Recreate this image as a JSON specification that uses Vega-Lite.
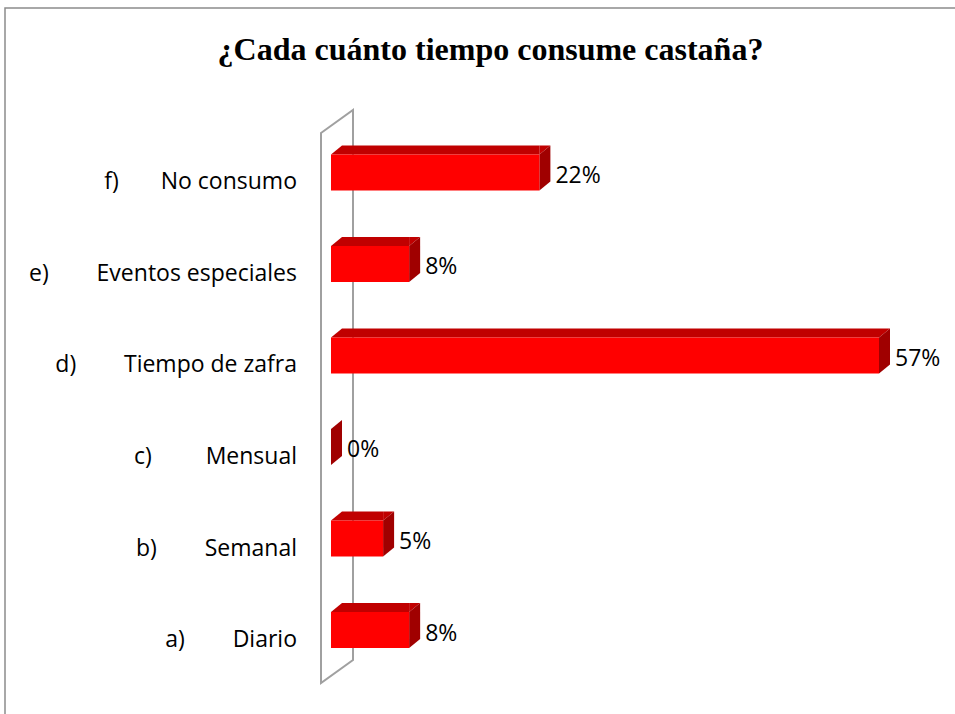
{
  "$schema": "https://vega.github.io/schema/vega-lite/v6.json",
  "width": 955,
  "height": 714,
  "autosize": {"type": "none"},
  "padding": {"left": 5, "top": 8, "right": -5, "bottom": -8},
  "background": "#ffffff",
  "config": {
    "view": {"stroke": "#8c8c8c", "strokeWidth": 1.5},
    "font": "Open Sans"
  },
  "title": {
    "text": "¿Cada cuánto tiempo consume castaña?",
    "font": "Liberation Serif",
    "fontSize": 32,
    "fontWeight": "bold",
    "color": "#000000",
    "anchor": "middle",
    "frame": "group",
    "baseline": "alphabetic",
    "offset": 0,
    "dy": 84,
    "dx": 8
  },
  "data": {
    "values": [
      {"cat": "f", "label": "f)\u00a0\u00a0\u00a0\u00a0\u00a0\u00a0\u00a0No consumo", "value": 0.216},
      {"cat": "e", "label": "e)\u00a0\u00a0\u00a0\u00a0\u00a0\u00a0\u00a0\u00a0Eventos especiales", "value": 0.081},
      {"cat": "d", "label": "d)\u00a0\u00a0\u00a0\u00a0\u00a0\u00a0\u00a0\u00a0Tiempo de zafra", "value": 0.568},
      {"cat": "c", "label": "c)\u00a0\u00a0\u00a0\u00a0\u00a0\u00a0\u00a0\u00a0\u00a0Mensual", "value": 0},
      {"cat": "b", "label": "b)\u00a0\u00a0\u00a0\u00a0\u00a0\u00a0\u00a0\u00a0Semanal", "value": 0.054},
      {"cat": "a", "label": "a)\u00a0\u00a0\u00a0\u00a0\u00a0\u00a0\u00a0\u00a0Diario\u00a0", "value": 0.081}
    ]
  },
  "encoding": {
    "y": {
      "field": "cat",
      "type": "nominal",
      "axis": null,
      "scale": {
        "domain": ["f", "e", "d", "c", "b", "a"],
        "paddingInner": 0,
        "paddingOuter": 0.9016,
        "align": 0.7197
      }
    }
  },
  "layer": [
    {
      "transform": [{"filter": "datum.cat === 'c'"}],
      "mark": {
        "type": "point",
        "shape": "M-10,-314L22,-337L22,213L-10,236Z",
        "size": 4,
        "filled": false,
        "stroke": "#a0a0a0",
        "strokeWidth": 2,
        "opacity": 1
      },
      "encoding": {
        "x": {"datum": 0, "type": "quantitative", "axis": null, "scale": {"domain": [-0.33789, 0.65195], "nice": false, "zero": false}}
      }
    },
    {
      "transform": [{"filter": "datum.value > 0"}],
      "mark": {"type": "bar", "height": 9, "yOffset": -22.5, "x2Offset": 11, "color": "#C00000"},
      "encoding": {
        "x": {"field": "value", "type": "quantitative", "axis": null},
        "x2": {"datum": 0}
      }
    },
    {
      "transform": [{"filter": "datum.value > 0"}],
      "mark": {"type": "point", "shape": "M0,-18L11,-27L11,-18Z", "size": 4, "filled": true, "color": "#C00000", "opacity": 1, "strokeWidth": 0},
      "encoding": {
        "x": {"datum": 0, "type": "quantitative", "axis": null}
      }
    },
    {
      "transform": [{"filter": "datum.value > 0"}],
      "mark": {"type": "point", "shape": "M0,-18L0,-27L11,-27Z", "size": 4, "filled": true, "color": "#C00000", "opacity": 1, "strokeWidth": 0},
      "encoding": {
        "x": {"field": "value", "type": "quantitative", "axis": null}
      }
    },
    {
      "mark": {"type": "point", "shape": "M0,-18L0,18L11,9L11,-27Z", "size": 4, "filled": true, "color": "#A00000", "opacity": 1, "strokeWidth": 0},
      "encoding": {
        "x": {"field": "value", "type": "quantitative", "axis": null}
      }
    },
    {
      "mark": {"type": "bar", "height": 36, "color": "#FF0000"},
      "encoding": {
        "x": {"field": "value", "type": "quantitative", "axis": null},
        "x2": {"datum": 0}
      }
    },
    {
      "mark": {"type": "text", "align": "left", "baseline": "alphabetic", "dx": 16, "dy": 10.5, "fontSize": 23, "font": "Open Sans", "color": "#000000"},
      "encoding": {
        "x": {"field": "value", "type": "quantitative", "axis": null},
        "text": {"field": "value", "type": "quantitative", "format": ".0%"}
      }
    },
    {
      "mark": {"type": "text", "align": "right", "baseline": "alphabetic", "dx": -34, "dy": 17, "fontSize": 23, "font": "Open Sans", "color": "#000000"},
      "encoding": {
        "x": {"datum": 0, "type": "quantitative", "axis": null},
        "text": {"field": "label", "type": "nominal"}
      }
    }
  ]
}
